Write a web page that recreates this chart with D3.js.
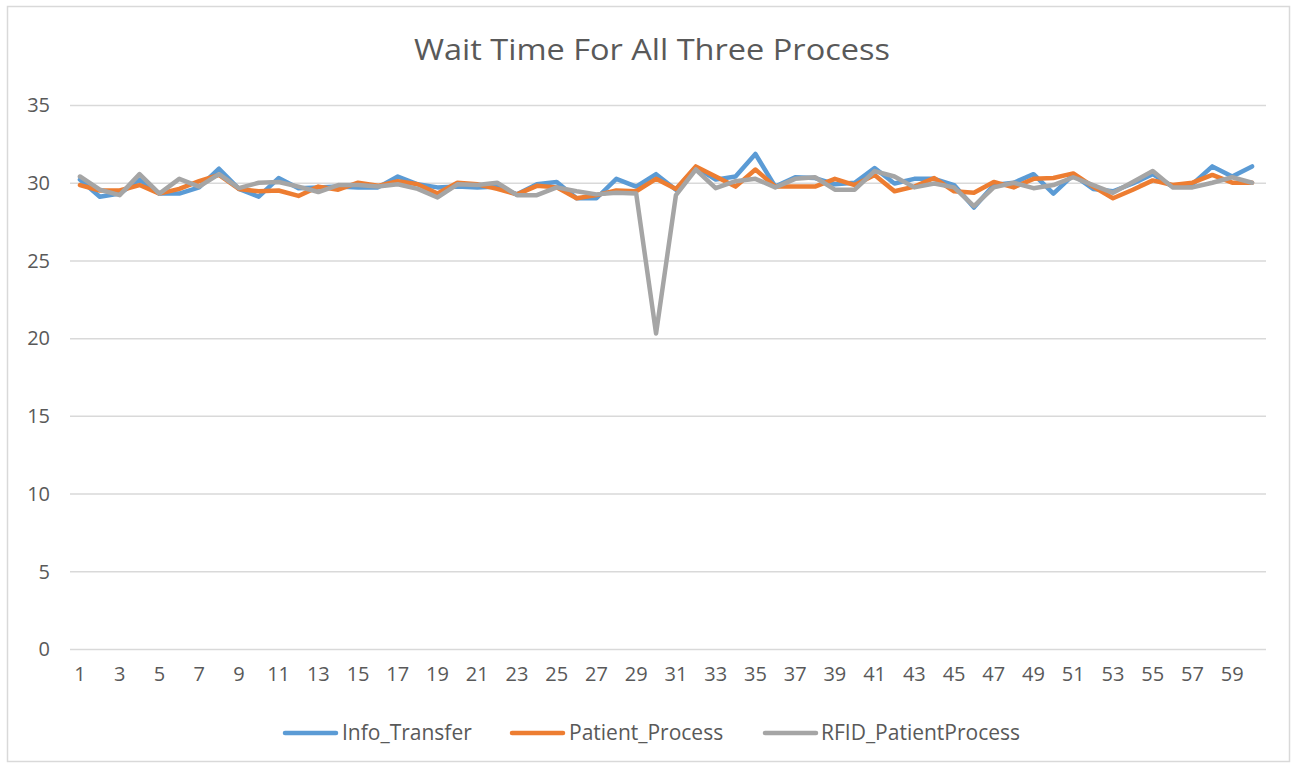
<!DOCTYPE html>
<html>
<head>
<meta charset="utf-8">
<script src="https://cdn.jsdelivr.net/npm/d3@7/dist/d3.min.js"></script>
<style>
  html, body { margin: 0; padding: 0; background: #ffffff; }
  svg { display: block; }
  text { font-family: "Open Sans", "DejaVu Sans", sans-serif; fill: #595959; }
</style>
</head>
<body>
<svg id="chart" width="1297" height="767"></svg>
<script>
const title = "Wait Time For All Three Process";
const categories = d3.range(1, 61);
const seriesNames = ["Info_Transfer", "Patient_Process", "RFID_PatientProcess"];
const seriesColors = ["#5B9BD5", "#ED7D31", "#A5A5A5"];
const yTicks = [0, 5, 10, 15, 20, 25, 30, 35];

const infoTransfer = [30.2, 29.1, 29.3, 30.2, 29.3, 29.3, 29.7, 30.9, 29.6, 29.1,
  30.3, 29.65, 29.7, 29.75, 29.7, 29.7, 30.4, 29.9, 29.7, 29.75,
  29.7, 29.75, 29.25, 29.9, 30.05, 29.0, 29.0, 30.25, 29.75, 30.55,
  29.55, 31.0, 30.2, 30.4, 31.85, 29.75, 30.35, 30.3, 29.9, 30.0,
  30.95, 29.95, 30.25, 30.25, 29.85, 28.4, 29.85, 30.0, 30.55, 29.3,
  30.5, 29.6, 29.45, 29.95, 30.55, 29.75, 29.9, 31.05, 30.4, 31.05];

const patientProcess = [29.85, 29.5, 29.5, 29.85, 29.3, 29.6, 30.1, 30.5, 29.6, 29.45,
  29.5, 29.15, 29.75, 29.55, 30.0, 29.8, 30.1, 29.9, 29.3, 30.0,
  29.9, 29.6, 29.25, 29.8, 29.7, 29.0, 29.2, 29.5, 29.45, 30.25,
  29.6, 31.05, 30.4, 29.75, 30.85, 29.75, 29.75, 29.75, 30.25, 29.85,
  30.5, 29.45, 29.75, 30.3, 29.45, 29.35, 30.05, 29.7, 30.25, 30.3,
  30.6, 29.75, 29.0, 29.55, 30.15, 29.85, 30.0, 30.5, 30.0, 30.0];

const rfidPatientProcess = [30.4, 29.55, 29.2, 30.55, 29.3, 30.25, 29.75, 30.55, 29.65, 30.0,
  30.05, 29.75, 29.4, 29.85, 29.85, 29.75, 29.9, 29.6, 29.05, 29.9,
  29.85, 30.0, 29.2, 29.2, 29.7, 29.45, 29.25, 29.35, 29.3, 20.3,
  29.2, 30.85, 29.65, 30.1, 30.25, 29.7, 30.25, 30.35, 29.55, 29.55,
  30.75, 30.4, 29.7, 29.95, 29.7, 28.5, 29.7, 30.0, 29.65, 29.85,
  30.35, 29.85, 29.35, 30.05, 30.75, 29.7, 29.7, 30.0, 30.35, 30.0];

const seriesValues = [infoTransfer, patientProcess, rfidPatientProcess];

const svg = d3.select("#chart");

// chart border
svg.append("rect")
  .attr("x", 7.5).attr("y", 6.5)
  .attr("width", 1282).attr("height", 755)
  .attr("fill", "#ffffff")
  .attr("stroke", "#d9d9d9").attr("stroke-width", 1.5);

const plot = { left: 70, right: 1262, top: 105, bottom: 649 };

const x = d3.scaleBand()
  .domain(categories)
  .range([plot.left, plot.right])
  .padding(0);

const y = d3.scaleLinear()
  .domain([0, 35])
  .range([plot.bottom, plot.top]);

// title
svg.append("text")
  .attr("x", 652).attr("y", 60)
  .attr("text-anchor", "middle")
  .attr("font-size", 29)
  .attr("textLength", 476)
  .attr("lengthAdjust", "spacingAndGlyphs")
  .text(title);

// gridlines
const yAxisG = svg.append("g")
  .attr("transform", `translate(${plot.left},0)`)
  .call(d3.axisLeft(y).tickValues(yTicks).tickSize(-(plot.right + 4 - plot.left)).tickPadding(20));
yAxisG.select(".domain").remove();
yAxisG.selectAll(".tick line").attr("stroke", "#d9d9d9").attr("stroke-width", 1.5);
yAxisG.selectAll(".tick text")
  .attr("font-size", 20)
  .attr("fill", "#595959")
  .attr("font-family", '"Open Sans", sans-serif')
  .attr("dy", "0.34em");

// x axis labels (odd categories)
const xAxisG = svg.append("g")
  .attr("transform", `translate(0,${plot.bottom})`)
  .call(d3.axisBottom(x).tickValues(categories.filter(d => d % 2 === 1)).tickSize(0).tickPadding(18));
xAxisG.select(".domain").remove();
xAxisG.selectAll(".tick text")
  .attr("font-size", 20)
  .attr("fill", "#595959")
  .attr("font-family", '"Open Sans", sans-serif');

// lines
const line = d3.line()
  .x((d, i) => x(categories[i]) + x.bandwidth() / 2)
  .y(d => y(d));

seriesValues.forEach((vals, k) => {
  svg.append("path")
    .datum(vals)
    .attr("fill", "none")
    .attr("stroke", seriesColors[k])
    .attr("stroke-width", 4.5)
    .attr("stroke-linejoin", "round")
    .attr("stroke-linecap", "round")
    .attr("d", line);
});

// legend
const legendItems = [
  { lx: 283, tx: 342 },
  { lx: 510, tx: 569 },
  { lx: 763, tx: 821 }
];
const legend = svg.append("g");
seriesNames.forEach((name, k) => {
  const it = legendItems[k];
  legend.append("line")
    .attr("x1", it.lx + 2).attr("x2", it.lx + 53)
    .attr("y1", 733).attr("y2", 733)
    .attr("stroke", seriesColors[k])
    .attr("stroke-width", 4.5)
    .attr("stroke-linecap", "round");
  legend.append("text")
    .attr("x", it.tx).attr("y", 733)
    .attr("dy", "0.35em")
    .attr("font-size", 21)
    .text(name);
});
</script>
</body>
</html>
